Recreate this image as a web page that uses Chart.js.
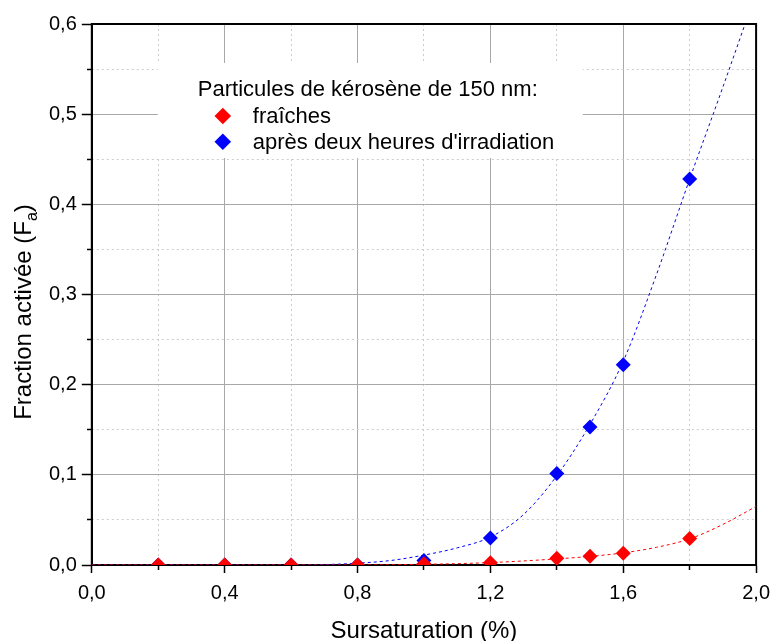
<!DOCTYPE html>
<html>
<head>
<meta charset="utf-8">
<script src="https://cdn.jsdelivr.net/npm/chart.js@4.4.1/dist/chart.umd.min.js"></script>
<style>
  html, body { margin: 0; padding: 0; background: #fff; overflow: hidden; }
</style>
</head>
<body>
<canvas id="faChart" width="778" height="643"></canvas>
<script>
// Supersaturation (%) of the measured points
const satValues = [0.2, 0.4, 0.6, 0.8, 1.0, 1.2, 1.4, 1.5, 1.6, 1.8];
// Activated fraction - fresh particles
const freshFa = [0, 0, 0, 0, 0.0015, 0.0025, 0.0074, 0.0096, 0.013, 0.0295];
// Activated fraction - after two hours of irradiation
const irradFa = [0, 0, 0, 0, 0.005, 0.030, 0.1015, 0.153, 0.222, 0.428];

// Fitted curves, sampled every 0.1 %
const fitSat = [0.0, 0.1, 0.2, 0.3, 0.4, 0.5, 0.6, 0.7, 0.8, 0.9, 1.0,
                1.1, 1.2, 1.3, 1.4, 1.5, 1.6, 1.7, 1.8, 1.9, 2.0];
const freshFit = [0, 0, 0, 0, 0, 0, 0, 0, 0, 0.0003, 0.0008,
                  0.0015, 0.0027, 0.0045, 0.0068, 0.0095, 0.0135, 0.0196, 0.029, 0.045, 0.065];
const irradFit = [0, 0, 0, 0, 0, 0, 0, 0.0005, 0.002, 0.005, 0.011,
                  0.019, 0.031, 0.056, 0.099, 0.156, 0.226, 0.322, 0.428, 0.53, 0.635];

// Axis ticks
const xMajorTicks = [0, 0.4, 0.8, 1.2, 1.6, 2.0];
const xMinorTicks = [0.2, 0.6, 1.0, 1.4, 1.8];
const yMajorTicks = [0, 0.1, 0.2, 0.3, 0.4, 0.5, 0.6];
const yMinorTicks = [0.05, 0.15, 0.25, 0.35, 0.45, 0.55];

const seriesLabels = ['fraîches', "après deux heures d'irradiation"];
const seriesColors = ['#ff0000', '#0000ff'];
const legendTitle = 'Particules de kérosène de 150 nm:';

const FONT = "'Liberation Sans', Arial, sans-serif";
const fmt = v => v.toFixed(1).replace('.', ',');
const toXY = (xs, ys) => xs.map((x, i) => ({ x: x, y: ys[i] }));
const setTicks = vals => scale => { scale.ticks = vals.map(v => ({ value: v })); };

// black box around the plot area
const frameBox = {
    id: 'frameBox',
    beforeDatasetsDraw(chart) {
        const { ctx, chartArea: a } = chart;
        ctx.save();
        ctx.strokeStyle = '#000';
        ctx.lineWidth = 2;
        ctx.strokeRect(a.left, a.top, a.right - a.left, a.bottom - a.top);
        ctx.restore();
    }
};

// y title with subscript
const yTitle = {
    id: 'yTitle',
    afterDraw(chart) {
        const ctx = chart.ctx;
        const main = 'Fraction activée (F';
        ctx.save();
        ctx.translate(31, 312);
        ctx.rotate(-Math.PI / 2);
        ctx.fillStyle = '#000';
        ctx.textBaseline = 'alphabetic';
        ctx.font = '24px ' + FONT;
        const w1 = ctx.measureText(main).width;
        const w3 = ctx.measureText(')').width;
        ctx.font = '16px ' + FONT;
        const w2 = ctx.measureText('a').width;
        let x = -(w1 + w2 + w3) / 2;
        ctx.font = '24px ' + FONT;
        ctx.fillText(main, x, 0);
        x += w1;
        ctx.font = '16px ' + FONT;
        ctx.fillText('a', x, 6);
        x += w2;
        ctx.font = '24px ' + FONT;
        ctx.fillText(')', x, 0);
        ctx.restore();
    }
};

// legend box inside the plot
const legendBox = {
    id: 'legendBox',
    afterDraw(chart) {
        const { ctx, chartArea: a } = chart;
        const left = a.left + 66, top = a.top + 39;
        ctx.save();
        ctx.fillStyle = '#fff';
        ctx.fillRect(left, top, 425, 95);
        ctx.fillStyle = '#000';
        ctx.font = '22px ' + FONT;
        ctx.textBaseline = 'alphabetic';
        ctx.fillText(legendTitle, left + 40, top + 33);
        seriesLabels.forEach((label, i) => {
            const cy = top + 53 + i * 25.7;
            const cx = left + 65;
            const r = 8.3;
            ctx.fillStyle = seriesColors[i];
            ctx.beginPath();
            ctx.moveTo(cx - r, cy);
            ctx.lineTo(cx, cy - r);
            ctx.lineTo(cx + r, cy);
            ctx.lineTo(cx, cy + r);
            ctx.closePath();
            ctx.fill();
            ctx.fillStyle = '#000';
            ctx.fillText(label, left + 95, cy + 7.3);
        });
        ctx.restore();
    }
};

const ctxFa = document.getElementById('faChart').getContext('2d');
const faChart = new Chart(ctxFa, {
    type: 'line',
    data: {
        datasets: [
            {
                label: seriesLabels[0],
                data: toXY(satValues, freshFa),
                showLine: false,
                pointStyle: 'rectRot',
                pointRadius: 7.5,
                pointBorderWidth: 0,
                backgroundColor: seriesColors[0],
                borderColor: seriesColors[0],
                order: 0
            },
            {
                label: seriesLabels[1],
                data: toXY(satValues, irradFa),
                showLine: false,
                pointStyle: 'rectRot',
                pointRadius: 7.5,
                pointBorderWidth: 0,
                backgroundColor: seriesColors[1],
                borderColor: seriesColors[1],
                order: 1
            },
            {
                label: 'fit fraîches',
                data: toXY(fitSat, freshFit),
                borderColor: seriesColors[0],
                borderWidth: 1,
                borderDash: [3, 3],
                pointRadius: 0,
                cubicInterpolationMode: 'monotone',
                order: 2
            },
            {
                label: 'fit irradiées',
                data: toXY(fitSat, irradFit),
                borderColor: seriesColors[1],
                borderWidth: 1,
                borderDash: [3, 3],
                pointRadius: 0,
                cubicInterpolationMode: 'monotone',
                order: 3
            }
        ]
    },
    options: {
        responsive: false,
        animation: false,
        layout: { padding: { left: 44, top: 24, right: 13, bottom: 0 } },
        plugins: {
            legend: { display: false },
            tooltip: { enabled: false }
        },
        scales: {
            x: {
                type: 'linear',
                position: 'bottom',
                min: 0,
                max: 2,
                afterBuildTicks: setTicks(xMajorTicks),
                grid: { color: '#a8a8a8', lineWidth: 1, tickColor: '#000', tickWidth: 1.5, tickLength: 8 },
                border: { color: '#000', width: 2 },
                ticks: {
                    color: '#000',
                    font: { family: FONT, size: 20 },
                    padding: 8,
                    maxRotation: 0,
                    autoSkip: false,
                    callback: fmt
                },
                title: {
                    display: true,
                    text: 'Sursaturation (%)',
                    color: '#000',
                    font: { family: FONT, size: 24, lineHeight: 1 },
                    padding: { top: 6, bottom: 0 }
                }
            },
            xMinor: {
                type: 'linear',
                axis: 'x',
                position: { y: 0 },
                min: 0,
                max: 2,
                afterBuildTicks: setTicks(xMinorTicks),
                grid: { color: '#cccccc', tickColor: '#000', tickWidth: 1.5, tickLength: 5, tickBorderDash: [] },
                border: { display: false, dash: [2, 3] },
                ticks: { display: false }
            },
            y: {
                type: 'linear',
                position: 'left',
                min: 0,
                max: 0.6,
                afterBuildTicks: setTicks(yMajorTicks),
                grid: { color: '#a8a8a8', lineWidth: 1, tickColor: '#000', tickWidth: 1.5, tickLength: 10 },
                border: { color: '#000', width: 2 },
                ticks: {
                    color: '#000',
                    font: { family: FONT, size: 20 },
                    padding: 5,
                    autoSkip: false,
                    callback: fmt
                }
            },
            yMinor: {
                type: 'linear',
                axis: 'y',
                position: { x: 0 },
                min: 0,
                max: 0.6,
                afterBuildTicks: setTicks(yMinorTicks),
                grid: { color: '#cccccc', tickColor: '#000', tickWidth: 1.5, tickLength: 5, tickBorderDash: [] },
                border: { display: false, dash: [2, 3] },
                ticks: { display: false }
            }
        }
    },
    plugins: [frameBox, yTitle, legendBox]
});
</script>
</body>
</html>
